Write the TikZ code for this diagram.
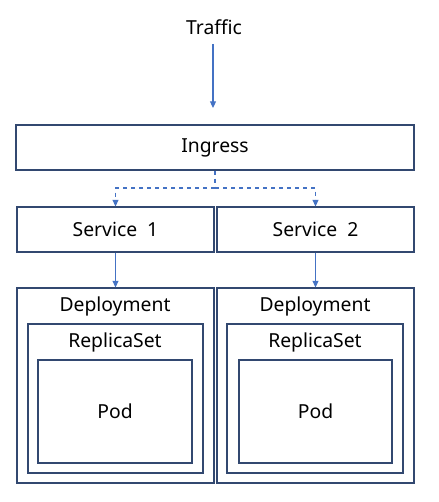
\documentclass[tikz,border=0pt]{standalone}
\usepackage{fontspec}
\setmainfont{Noto Sans}
\usetikzlibrary{arrows.meta}
\definecolor{boxline}{RGB}{50,72,112}
\definecolor{arrowblue}{RGB}{68,114,196}
\tikzset{
  box/.style={draw=boxline, line width=0.8pt, minimum width=#1, inner sep=0pt},
  flow/.style={draw=arrowblue, line width=0.8pt, -{Triangle[length=5pt,width=4.5pt]}}
}
\begin{document}
\begin{tikzpicture}[x=0.75pt, y=-0.75pt, font=\fontsize{14.5}{17}\selectfont]
\useasboundingbox (0,0) rectangle (438,502);

% Top: traffic and ingress
\node (traffic) at (214,27) {Traffic};
\node[box=298.5pt, minimum height=33.75pt] (ingress) at (215,147.5) {Ingress};
\coordinate (trafficstart) at (213,44);
\coordinate (trafficend) at (213,108);
\draw[flow] (trafficstart) -- (trafficend);

% Services
\node[box=147.75pt, minimum height=33.75pt] (svc1) at (115.5,229.5) {Service\ \ 1};
\node[box=147.75pt, minimum height=33.75pt] (svc2) at (315.5,229.5) {Service\ \ 2};
\coordinate (split) at (215,188);
\draw[draw=arrowblue, line width=0.8pt, dashed] (ingress.south) -- (split);
\draw[flow, dashed] (split) -| (svc1.north);
\draw[flow, dashed] (split) -| (svc2.north);

% Deployment 1
\node[box=147.75pt, minimum height=146.25pt] (dep1) at (115.5,385.5) {};
\node[box=131.25pt, minimum height=111.75pt] (rs1) at (115.5,398.5) {};
\node[box=115.5pt, minimum height=77.25pt] (pod1) at (115,411.5) {Pod};
\node (dep1label) at (115,306) {Deployment};
\node (rs1label) at (115,342) {ReplicaSet};

% Deployment 2
\node[box=147.75pt, minimum height=146.25pt] (dep2) at (315.5,385.5) {};
\node[box=132pt, minimum height=111.75pt] (rs2) at (315,398.5) {};
\node[box=114.75pt, minimum height=77.25pt] (pod2) at (315.5,411.5) {Pod};
\node (dep2label) at (315,306) {Deployment};
\node (rs2label) at (315,342) {ReplicaSet};

\draw[flow] (svc1.south) -- (dep1.north);
\draw[flow] (svc2.south) -- (dep2.north);

\end{tikzpicture}
\end{document}
